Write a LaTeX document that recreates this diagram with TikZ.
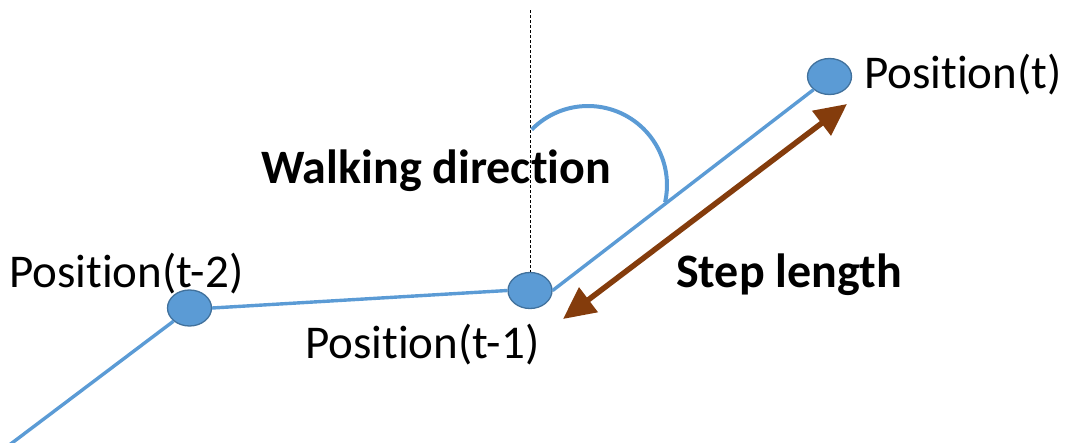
\documentclass[tikz,border=0pt]{standalone}
\usepackage{fontspec}
\setmainfont{Carlito}[Ligatures={NoCommon,NoContextual}]
\usetikzlibrary{shapes.geometric,arrows.meta}
\definecolor{ptblue}{HTML}{5B9BD5}
\definecolor{ptborder}{HTML}{41719C}
\definecolor{arrbrown}{HTML}{843C0C}
\tikzset{
  posdot/.style={ellipse, fill=ptblue, draw=ptborder, line width=1.3pt,
    minimum width=44pt, minimum height=36pt, inner sep=0pt},
  pathline/.style={draw=ptblue, line width=3.4pt},
  lbl/.style={anchor=base west, inner sep=0pt, font=\fontsize{47}{56}\selectfont},
  boldlbl/.style={lbl, font=\fontsize{48}{57}\selectfont\bfseries},
  steparrow/.style={draw=arrbrown, line width=5.5pt,
    {Triangle[length=32pt,width=30pt]}-{Triangle[length=32pt,width=30pt]}},
  vertdash/.style={draw=black, line width=1pt, dash pattern=on 3pt off 2pt},
  anglearc/.style={draw=ptblue, line width=4pt}
}
\begin{document}
\begin{tikzpicture}[x=1pt,y=-1pt]
\useasboundingbox (0,0) rectangle (1071,442);
\clip (0,0) rectangle (1071,442);
% positions
\node[posdot] (p2) at (189.5,308) {};
\node[posdot] (p1) at (530,290.5) {};
\node[posdot] (p0) at (829.5,76.5) {};
\coordinate (start) at (8,446);
\coordinate (dashtop) at (530,10);
\coordinate (arcc) at (588,185);
% path
\draw[pathline] (start) -- (p2.south west);
\draw[pathline] (p2.east) -- (p1.west);
\draw[pathline] (p1.east) -- (p0.south west);
% vertical reference
\draw[vertdash] (dashtop) -- (p1.north);
% angle arc
\draw[anglearc] ([shift={(-135.5:79)}]arcc) arc[start angle=-135.5, end angle=12.6, radius=79];
% step length arrow
\coordinate (ah) at (563,319);
\coordinate (at) at (847,104);
\draw[steparrow] (ah) -- (at);
% labels
\node[lbl] (l2) at (9,287) {Position(t-2)};
\node[lbl] (l1) at (305,358) {Position(t-1)};
\node[lbl] (l0) at (864,88) {Position(t)};
\node[boldlbl] (wd) at (261,183) {Walking direction};
\node[boldlbl] (sl) at (676,287) {Step length};
\end{tikzpicture}
\end{document}
